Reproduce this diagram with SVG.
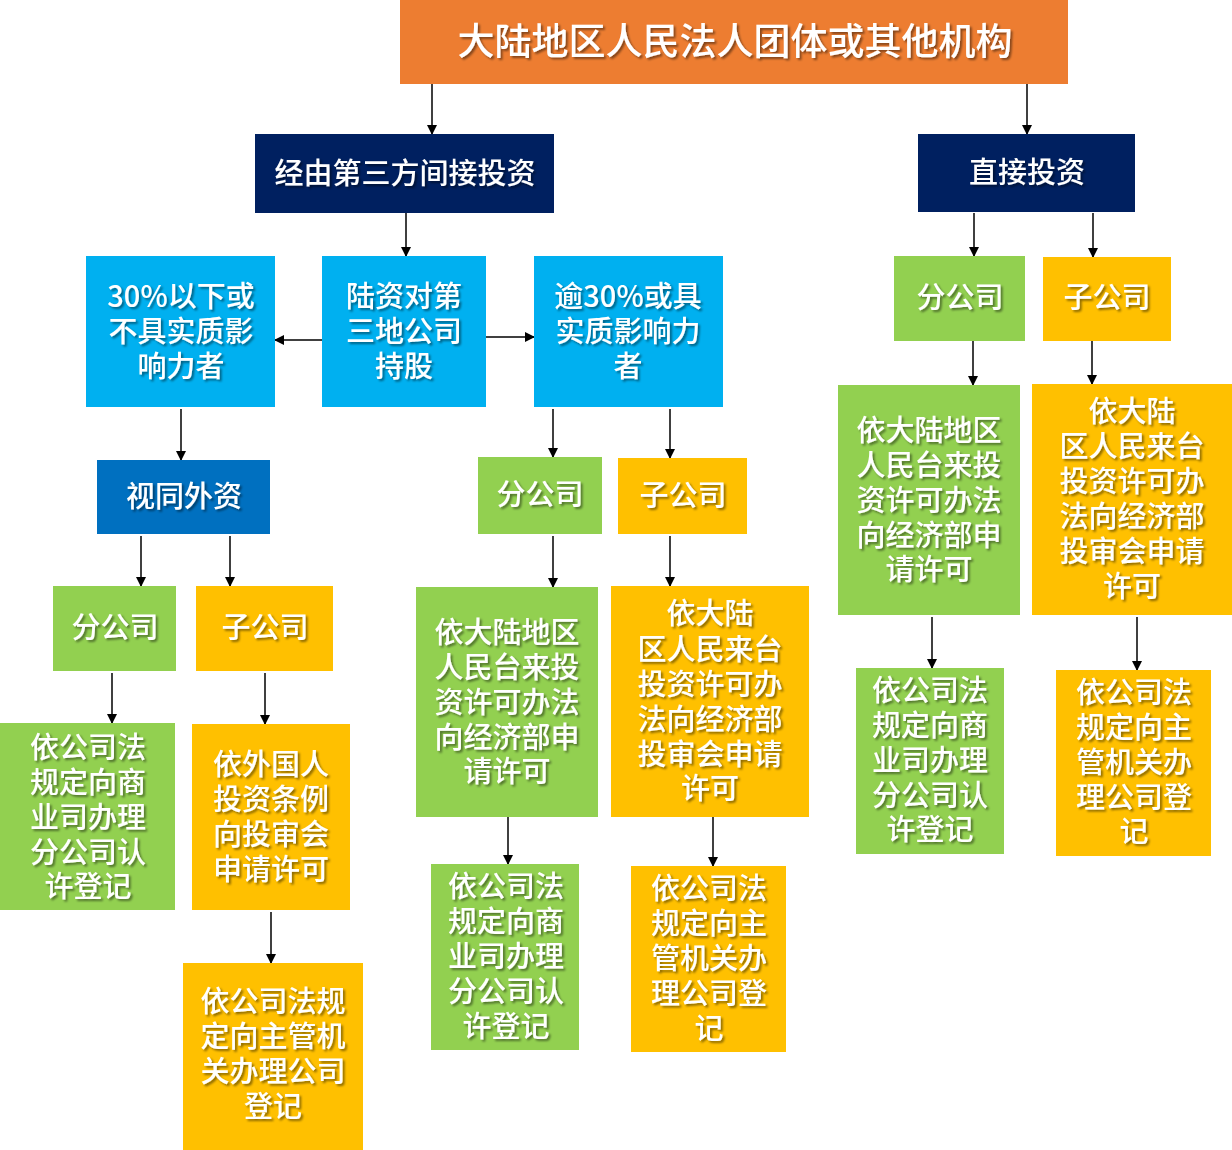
<svg xmlns="http://www.w3.org/2000/svg" width="1232" height="1150" viewBox="0 0 1232 1150">
<style>
.t{font-family:"Noto Sans CJK SC","Noto Sans",sans-serif;font-size:29px;font-weight:500;fill:#fff;text-anchor:middle;filter:url(#sh)}
.big{font-size:37px}
.or{fill:#ED7D31}.nv{fill:#002060}.lb{fill:#00B0F0}.mb{fill:#0070C0}.gr{fill:#92D050}.yl{fill:#FFC000}
.c line{stroke:#000;stroke-width:1.5;marker-end:url(#ah)}
</style>
<defs>
<filter id="sh" x="-10%" y="-10%" width="130%" height="140%">
<feDropShadow dx="2" dy="2" stdDeviation="1" flood-color="#000" flood-opacity="0.45"/>
</filter>
<marker id="ah" markerWidth="10" markerHeight="10" refX="9" refY="5" orient="auto" markerUnits="userSpaceOnUse">
<path d="M0,0 L10,5 L0,10 Z" fill="#000"/>
</marker>
</defs>
<rect width="1232" height="1150" fill="#fff"/>
<g class="c" id="connectors">
<line x1="432" y1="84" x2="432" y2="134"/>
<line x1="1027" y1="84" x2="1027" y2="134"/>
<line x1="406" y1="213" x2="406" y2="256"/>
<line x1="322" y1="340" x2="275" y2="340"/>
<line x1="486" y1="337" x2="534" y2="337"/>
<line x1="181" y1="409" x2="181" y2="460"/>
<line x1="141" y1="536" x2="141" y2="586"/>
<line x1="230" y1="536" x2="230" y2="586"/>
<line x1="112" y1="673" x2="112" y2="723"/>
<line x1="265" y1="673" x2="265" y2="724"/>
<line x1="271" y1="912" x2="271" y2="963"/>
<line x1="553" y1="409" x2="553" y2="457"/>
<line x1="670" y1="409" x2="670" y2="458"/>
<line x1="553" y1="536" x2="553" y2="587"/>
<line x1="670" y1="536" x2="670" y2="586"/>
<line x1="508" y1="817" x2="508" y2="864"/>
<line x1="713" y1="817" x2="713" y2="866"/>
<line x1="974" y1="213" x2="974" y2="256"/>
<line x1="1093" y1="213" x2="1093" y2="257"/>
<line x1="973" y1="335" x2="973" y2="385"/>
<line x1="1092" y1="335" x2="1092" y2="384"/>
<line x1="932" y1="617" x2="932" y2="668"/>
<line x1="1137" y1="617" x2="1137" y2="670"/>
</g>
<g id="root"><rect class="or" x="400" y="0" width="668" height="84"/><text class="t big" x="735" y="55">大陆地区人民法人团体或其他机构</text></g>
<g id="indirect"><rect class="nv" x="255" y="134" width="299" height="79"/><text class="t" x="405" y="184">经由第三方间接投资</text></g>
<g id="direct"><rect class="nv" x="918" y="134" width="217" height="78"/><text class="t" x="1027" y="183">直接投资</text></g>
<g id="below30"><rect class="lb" x="86" y="256" width="189" height="151"/><text class="t" x="181" y="307">30%以下或</text><text class="t" x="181" y="342">不具实质影</text><text class="t" x="181" y="377">响力者</text></g>
<g id="holding"><rect class="lb" x="322" y="256" width="164" height="151"/><text class="t" x="404" y="307">陆资对第</text><text class="t" x="404" y="342">三地公司</text><text class="t" x="404" y="377">持股</text></g>
<g id="over30"><rect class="lb" x="534" y="256" width="189" height="151"/><text class="t" x="628" y="307">逾30%或具</text><text class="t" x="628" y="342">实质影响力</text><text class="t" x="628" y="377">者</text></g>
<g id="foreign"><rect class="mb" x="97" y="460" width="173" height="74"/><text class="t" x="184" y="507">视同外资</text></g>
<g id="l-branch"><rect class="gr" x="53" y="586" width="123" height="85"/><text class="t" x="115" y="638">分公司</text></g>
<g id="l-sub"><rect class="yl" x="196" y="586" width="137" height="85"/><text class="t" x="265" y="638">子公司</text></g>
<g id="l-branch-reg"><rect class="gr" x="0" y="723" width="175" height="187"/>
<text class="t" x="88" y="758">依公司法</text><text class="t" x="88" y="793">规定向商</text><text class="t" x="88" y="828">业司办理</text><text class="t" x="88" y="863">分公司认</text><text class="t" x="88" y="897">许登记</text></g>
<g id="l-sub-permit"><rect class="yl" x="192" y="724" width="158" height="186"/>
<text class="t" x="271" y="775">依外国人</text><text class="t" x="271" y="810">投资条例</text><text class="t" x="271" y="845">向投审会</text><text class="t" x="271" y="880">申请许可</text></g>
<g id="l-sub-reg"><rect class="yl" x="183" y="963" width="180" height="187"/>
<text class="t" x="273" y="1012">依公司法规</text><text class="t" x="273" y="1047">定向主管机</text><text class="t" x="273" y="1082">关办理公司</text><text class="t" x="273" y="1117">登记</text></g>
<g id="m-branch"><rect class="gr" x="478" y="457" width="124" height="77"/><text class="t" x="540" y="505">分公司</text></g>
<g id="m-sub"><rect class="yl" x="618" y="458" width="129" height="76"/><text class="t" x="683" y="506">子公司</text></g>
<g id="m-branch-permit"><rect class="gr" x="416" y="587" width="182" height="230"/>
<text class="t" x="507" y="643">依大陆地区</text><text class="t" x="507" y="678">人民台来投</text><text class="t" x="507" y="713">资许可办法</text><text class="t" x="507" y="748">向经济部申</text><text class="t" x="507" y="782">请许可</text></g>
<g id="m-sub-permit"><rect class="yl" x="611" y="586" width="198" height="231"/>
<text class="t" x="710" y="624">依大陆</text><text class="t" x="710" y="660">区人民来台</text><text class="t" x="710" y="695">投资许可办</text><text class="t" x="710" y="730">法向经济部</text><text class="t" x="710" y="765">投审会申请</text><text class="t" x="710" y="799">许可</text></g>
<g id="m-branch-reg"><rect class="gr" x="431" y="864" width="148" height="186"/>
<text class="t" x="506" y="897">依公司法</text><text class="t" x="506" y="932">规定向商</text><text class="t" x="506" y="967">业司办理</text><text class="t" x="506" y="1002">分公司认</text><text class="t" x="506" y="1037">许登记</text></g>
<g id="m-sub-reg"><rect class="yl" x="631" y="866" width="155" height="186"/>
<text class="t" x="709" y="899">依公司法</text><text class="t" x="709" y="934">规定向主</text><text class="t" x="709" y="969">管机关办</text><text class="t" x="709" y="1004">理公司登</text><text class="t" x="709" y="1039">记</text></g>
<g id="r-branch"><rect class="gr" x="894" y="256" width="131" height="85"/><text class="t" x="960" y="308">分公司</text></g>
<g id="r-sub"><rect class="yl" x="1043" y="257" width="128" height="84"/><text class="t" x="1107" y="308">子公司</text></g>
<g id="r-branch-permit"><rect class="gr" x="838" y="385" width="182" height="230"/>
<text class="t" x="929" y="441">依大陆地区</text><text class="t" x="929" y="476">人民台来投</text><text class="t" x="929" y="511">资许可办法</text><text class="t" x="929" y="546">向经济部申</text><text class="t" x="929" y="580">请许可</text></g>
<g id="r-sub-permit"><rect class="yl" x="1032" y="384" width="200" height="231"/>
<text class="t" x="1132" y="422">依大陆</text><text class="t" x="1132" y="457">区人民来台</text><text class="t" x="1132" y="492">投资许可办</text><text class="t" x="1132" y="527">法向经济部</text><text class="t" x="1132" y="562">投审会申请</text><text class="t" x="1132" y="597">许可</text></g>
<g id="r-branch-reg"><rect class="gr" x="856" y="668" width="148" height="186"/>
<text class="t" x="930" y="701">依公司法</text><text class="t" x="930" y="736">规定向商</text><text class="t" x="930" y="771">业司办理</text><text class="t" x="930" y="806">分公司认</text><text class="t" x="930" y="840">许登记</text></g>
<g id="r-sub-reg"><rect class="yl" x="1056" y="670" width="155" height="186"/>
<text class="t" x="1134" y="703">依公司法</text><text class="t" x="1134" y="738">规定向主</text><text class="t" x="1134" y="773">管机关办</text><text class="t" x="1134" y="808">理公司登</text><text class="t" x="1134" y="842">记</text></g>
</svg>
